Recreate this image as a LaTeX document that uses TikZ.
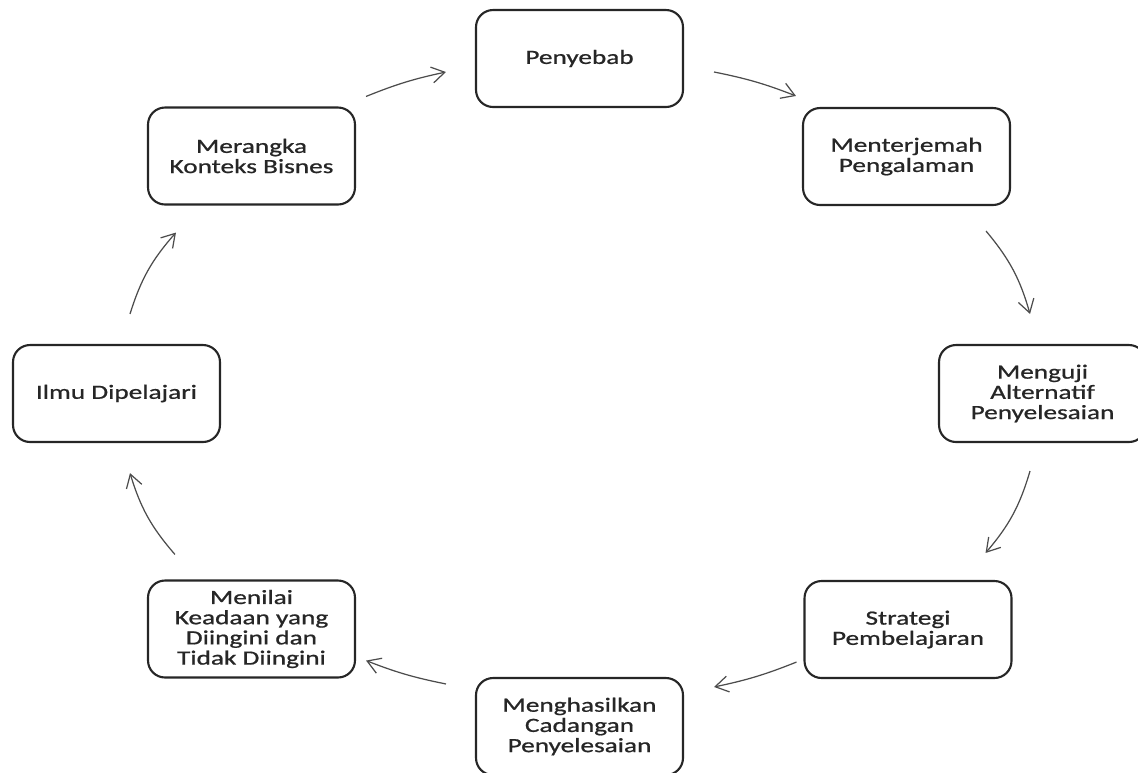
\documentclass[tikz,border=0pt]{standalone}
\usepackage{fontspec}
\setmainfont{Carlito}[FakeStretch=1.35, FakeBold=0.8]
\usepackage{tikz}
\usetikzlibrary{positioning, arrows.meta}
\tikzstyle{block} = [rectangle, draw=black!85, line width=1.2pt, fill=white,
    minimum width=4.14cm, minimum height=1.94cm, rounded corners=0.34cm,
    align=center, text=black!85, font=\fontsize{11.5pt}{11.5pt}\selectfont]
\tikzstyle{flow} = [draw=black!70, line width=0.7pt,
    -{Straight Barb[length=0.26cm, width=0.32cm]}]

\begin{document}
\begin{tikzpicture}[x=0.02cm, y=-0.02cm]
                \useasboundingbox (0,0) rectangle (1138,772);
                % Nodes
                \node [block] (penyebab) at (579.5,58.5) {Penyebab};
                \node [block] (menterjemah) at (906.5,156.5) {Menterjemah\\Pengalaman};
                \node [block] (menguji) at (1042.5,393.5) {Menguji\\Alternatif\\Penyelesaian};
                \node [block] (strategi) at (908,629.5) {Strategi\\Pembelajaran};
                \node [block] (menghasilkan) at (579.5,726.5) {Menghasilkan\\Cadangan\\Penyelesaian};
                \node [block] (menilai) at (251.5,629) {Menilai\\Keadaan yang\\Diingini dan\\Tidak Diingini};
                \node [block] (ilmu) at (116.5,393.5) {Ilmu Dipelajari};
                \node [block] (merangka) at (251.5,156) {Merangka\\Konteks Bisnes};

                % Connections
                \draw [flow] ([shift={(10,-10)}]merangka.north east) to[bend left=5] ([shift={(-29,13.5)}]penyebab.west);
                \draw [flow] ([shift={(30,13.5)}]penyebab.east) to[bend left=5] ([shift={(-6,-11)}]menterjemah.north west);
                \draw [flow] ([shift={(-25,25)}]menterjemah.south east) to[bend left=12] ([shift={(-12.5,-30)}]menguji.north);
                \draw [flow] ([shift={(-12.5,28)}]menguji.south) to[bend left=12] ([shift={(-27,-27)}]strategi.north east);
                \draw [flow] ([shift={(-7,-17)}]strategi.south west) to[bend left=5] ([shift={(30,10)}]menghasilkan.north east);
                \draw [flow] ([shift={(-29,7)}]menghasilkan.north west) to[bend left=5] ([shift={(10,-18)}]menilai.south east);
                \draw [flow] ([shift={(28,-25)}]menilai.north west) to[bend left=12] ([shift={(13.5,30)}]ilmu.south);
                \draw [flow] ([shift={(13.5,-30)}]ilmu.north) to[bend left=12] ([shift={(29,27)}]merangka.south west);

            \end{tikzpicture}
\end{document}
